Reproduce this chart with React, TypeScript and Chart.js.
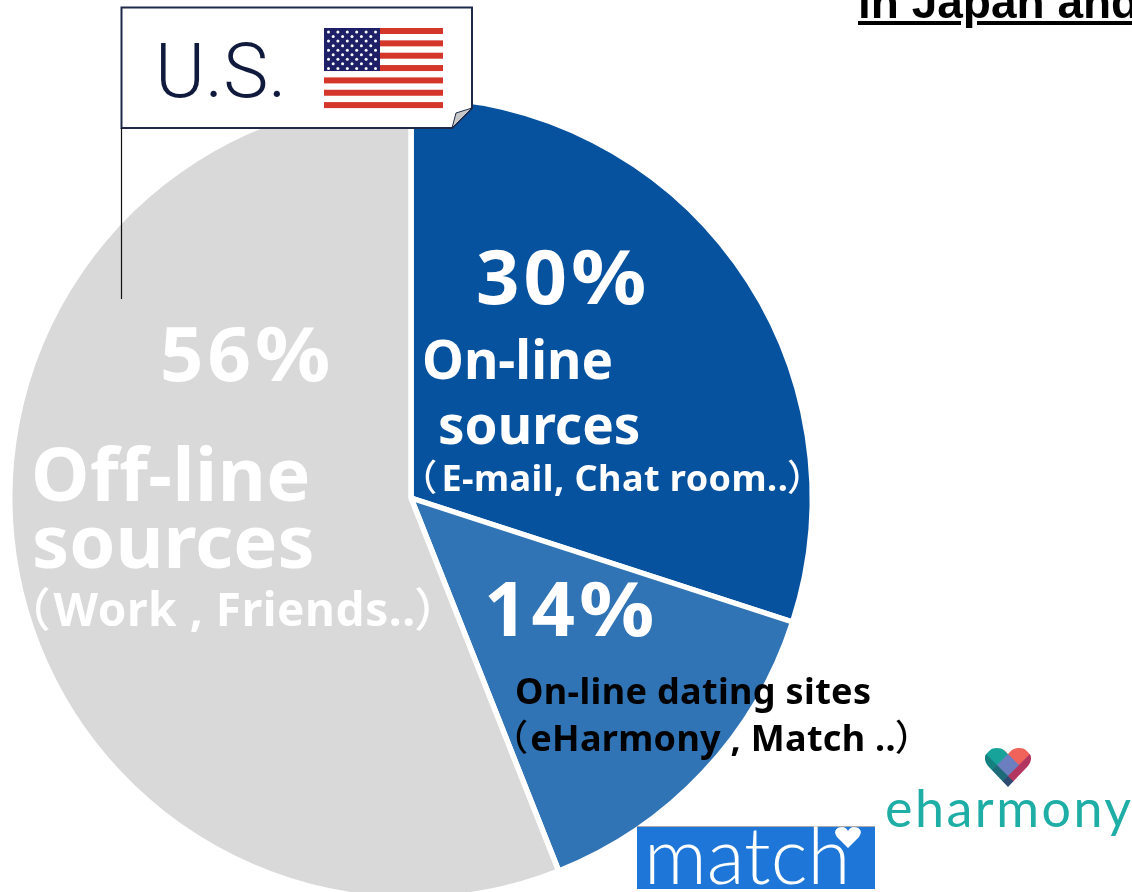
import React, { useEffect, useRef } from "react";
import { Chart, registerables } from "chart.js";

Chart.register(...registerables);

const categories = ["On-line sources", "On-line dating sites", "Off-line sources"];
const shares = [30, 14, 56];
const sliceColors = ["#07529F", "#3074B5", "#D9D9D9"];
const detailOnline = "E-mail, Chat room..";
const detailDating = "eHarmony , Match ..";
const detailOffline = "Work , Friends..";

const CJK = '"Noto Sans CJK JP", "Noto Sans", sans-serif';
const LATIN = '"Noto Sans", "Noto Sans CJK JP", sans-serif';

type TextProps = { x: number; y: number; size: number; color?: string; weight?: number; family?: string; children: React.ReactNode; extra?: React.CSSProperties };
function T({ x, y, size, color = "#fff", weight = 700, family = LATIN, children, extra }: TextProps) {
  return (
    <div style={{ position: "absolute", left: x, top: y, fontSize: size, color, fontWeight: weight, fontFamily: family, lineHeight: 1, whiteSpace: "nowrap", fontVariantLigatures: "none", ...extra }}>
      {children}
    </div>
  );
}

function Paren({ c, gapAfter = 0, gapBefore = 0 }: { c: string; gapAfter?: number; gapBefore?: number }) {
  return <span style={{ fontWeight: 500, fontFamily: CJK, fontFeatureSettings: '"palt"', marginRight: gapAfter, marginLeft: gapBefore }}>{c}</span>;
}

function Pct({ v }: { v: number }) {
  return (
    <>
      <span style={{ letterSpacing: 4 }}>{v}</span>
      <span style={{ display: "inline-block", transform: "scaleX(1.1)", transformOrigin: "left center" }}>%</span>
    </>
  );
}

function Callout() {
  const stripes = Array.from({ length: 7 }, (_, i) => i);
  const stars: [number, number][] = [];
  for (let r = 0; r < 9; r++) {
    const n = r % 2 === 0 ? 6 : 5;
    for (let c = 0; c < n; c++) stars.push([328.5 + (r % 2 === 0 ? 0 : 4.7) + c * 9.4, 32 + r * 4.55]);
  }
  return (
    <svg width={1132} height={892} style={{ position: "absolute", left: 0, top: 0 }}>
      <path d="M121.5 7.5 H472 V108 L452 128 H121.5 Z" fill="#fff" stroke="#1f2a4a" strokeWidth={2} />
      <path d="M121.5 128 V299" stroke="#111" strokeWidth={1.2} fill="none" />
      <path d="M452 128 L456 113 L472 108 Z" fill="#c8c8c8" stroke="#1f2a4a" strokeWidth={1} />
      {stripes.map((i) => (
        <rect key={i} x={324} y={28 + i * 12.35} width={119} height={6} fill="#D4372A" />
      ))}
      <rect x={324} y={28} width={56} height={43} fill="#1D2067" />
      {stars.map(([x, y], i) => (
        <circle key={i} cx={x} cy={y} r={1.5} fill="#fff" />
      ))}
    </svg>
  );
}

function Logos() {
  const cells = [
    ["#F59A80", "#F0635A", "#B2365F"],
    ["#17A39A", "#6B7FC0", "#B2365F"],
    ["#148080", "#1D6B78", "#2E4A70"],
  ];
  const s = 15.5;
  return (
    <svg width={1132} height={892} style={{ position: "absolute", left: 0, top: 0 }}>
      <defs>
        <clipPath id="hrt">
          <path d="M1008 787 L988 766 C981 757 987 748 997 748 C1002 748 1006 751 1008 754 C1010 751 1014 748 1019 748 C1029 748 1035 757 1028 766 Z" />
        </clipPath>
      </defs>
      <g clipPath="url(#hrt)">
        <g transform="rotate(45 1008 765)">
          {cells.map((row, r) =>
            row.map((c, k) => (
              <rect key={`${r}-${k}`} x={1008 - 1.5 * s + k * s} y={765 - 1.5 * s + r * s} width={s + 0.5} height={s + 0.5} fill={c} />
            ))
          )}
        </g>
      </g>
      <rect x={637} y={827} width={238} height={62} fill="#1E77D8" />
      <rect x={637} y={826} width={238} height={1} fill="#aaa" />
      <path d="M848 848 L837 837 C832 830 838 827 842 827 C845 827 847 829 848 831 C849 829 851 827 854 827 C858 827 864 830 859 837 Z" fill="#fff" />
    </svg>
  );
}

export default function App() {
  const ref = useRef<HTMLCanvasElement>(null);
  useEffect(() => {
    const chart = new Chart(ref.current!, {
      type: "pie",
      data: {
        labels: categories,
        datasets: [{ data: shares, backgroundColor: sliceColors, borderColor: "#fff", borderWidth: 5.5, hoverOffset: 0 }],
      },
      options: {
        responsive: false,
        animation: false,
        layout: { padding: { left: 7, right: 317, top: 94, bottom: 92 } },
        plugins: { legend: { display: false }, tooltip: { enabled: false }, title: { display: false } },
      },
    });
    return () => chart.destroy();
  }, []);
  return (
    <div style={{ position: "fixed", left: 0, top: 0, width: 1132, height: 892, overflow: "hidden", background: "#fff" }}>
      <canvas ref={ref} width={1132} height={994} style={{ position: "absolute", left: 0, top: 0, width: 1132, height: 994 }} />
      <Callout />
      <T x={155} y={33} size={76} weight={300} color="#0F1A3C" family='Roboto, sans-serif'>U.S.</T>
      <T x={858} y={-21} size={46} family='"Liberation Sans", sans-serif' color="#000" extra={{ textDecoration: "underline" }}>in Japan and</T>
      <T x={476} y={237} size={76}><Pct v={shares[0]} /></T>
      <T x={422} y={332} size={53}>On-line</T>
      <T x={438} y={397} size={53}>sources</T>
      <T x={418} y={457} size={36} extra={{ letterSpacing: 0.45 }}><Paren c="（" gapAfter={5} />{detailOnline}<Paren c="）" /></T>
      <T x={160} y={314} size={76}><Pct v={shares[2]} /></T>
      <T x={31} y={436} size={74} extra={{ letterSpacing: 0.5 }}>Off-line</T>
      <T x={32} y={503} size={74}>sources</T>
      <T x={26} y={583} size={46} extra={{ letterSpacing: 0.55 }}><Paren c="（" gapAfter={4} />{detailOffline}<Paren c="）" /></T>
      <T x={484} y={569} size={76}><Pct v={shares[1]} /></T>
      <T x={515} y={673} size={36} color="#000" extra={{ letterSpacing: 0.35 }}>On-line dating sites</T>
      <T x={509} y={717} size={36} color="#000" extra={{ letterSpacing: 0.3 }}><Paren c="（" gapAfter={3} />{detailDating}<Paren c="）" /></T>
      <Logos />
      <T x={644} y={815} size={78} weight={300} family='Lato, sans-serif'>match</T>
      <T x={885} y={781} size={52} weight={400} color="#1FAEA6" family='Lato, sans-serif' extra={{ letterSpacing: 2.5 }}>eharmony</T>
    </div>
  );
}
